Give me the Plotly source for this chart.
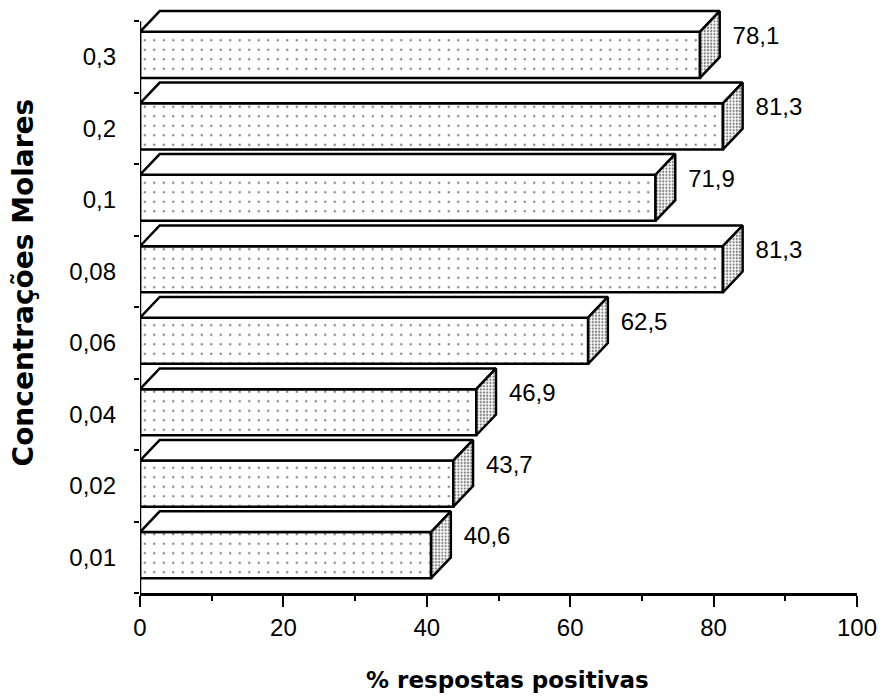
import plotly.graph_objects as go

# Molar concentrations (bottom to top) and % positive responses
concentracoes = ["0,01", "0,02", "0,04", "0,06", "0,08", "0,1", "0,2", "0,3"]
respostas = [40.6, 43.7, 46.9, 62.5, 81.3, 71.9, 81.3, 78.1]
x_ticks = [0, 20, 40, 60, 80, 100]

# geometry of the pseudo-3D boxes (axis units)
BAR_W = 0.645
BAR_SHIFT = 0.03
DEPTH_X = 2.75
DEPTH_Y = 0.29

pos = list(range(len(concentracoes)))
centers = [p + BAR_SHIFT for p in pos]
labels = [f"{v:.1f}".replace(".", ",") for v in respostas]

fig = go.Figure()

# front faces
fig.add_trace(go.Bar(
    x=respostas, y=centers, orientation="h", width=BAR_W,
    marker=dict(color="white", line=dict(color="black", width=2.5),
                pattern=dict(shape=".", fgcolor="black", bgcolor="white",
                             size=9.5, solidity=0.05)),
    hoverinfo="skip",
))

# top and side faces
tx, ty, sx, sy = [], [], [], []
for c, v in zip(centers, respostas):
    top = c + BAR_W / 2
    bot = c - BAR_W / 2
    tx += [0, v, v + DEPTH_X, DEPTH_X, 0, None]
    ty += [top, top, top + DEPTH_Y, top + DEPTH_Y, top, None]
    sx += [v, v + DEPTH_X, v + DEPTH_X, v, v, None]
    sy += [top, top + DEPTH_Y, bot + DEPTH_Y, bot, top, None]

fig.add_trace(go.Scatter(
    x=tx, y=ty, mode="lines", fill="toself", fillcolor="white",
    line=dict(color="black", width=2.5), hoverinfo="skip",
))
fig.add_trace(go.Scatter(
    x=sx, y=sy, mode="lines", fill="toself", fillcolor="white",
    fillpattern=dict(shape=".", fgcolor="black", bgcolor="white",
                     size=3.2, solidity=0.38),
    line=dict(color="black", width=2.5), hoverinfo="skip",
))

# value labels
fig.add_trace(go.Scatter(
    x=[v + DEPTH_X + 1.8 for v in respostas],
    y=[c + 0.24 for c in centers],
    mode="text", text=labels, textposition="middle right",
    textfont=dict(family="Liberation Sans, Arial", size=24, color="black"),
    cliponaxis=False, hoverinfo="skip",
))

fig.update_layout(
    width=884, height=697,
    margin=dict(l=140, r=21, t=7, b=104),
    plot_bgcolor="white", paper_bgcolor="white",
    showlegend=False,
    font=dict(family="Liberation Sans, Arial", size=24, color="black"),
    shapes=[dict(type="line", xref="x", yref="y", x0=0, x1=0,
                 y0=-0.5, y1=len(pos) - 0.5,
                 line=dict(color="black", width=2.5), layer="above")],
    annotations=[
        dict(text="% respostas positivas", xref="paper", yref="paper",
             x=0.512, y=0, yshift=-87, showarrow=False,
             xanchor="center", yanchor="middle",
             font=dict(family="DejaVu Sans", size=23, color="black", weight="bold")),
        dict(text="Concentrações Molares", xref="paper", yref="paper",
             x=0, xshift=-117, y=0.53, showarrow=False, textangle=-90,
             xanchor="center", yanchor="middle",
             font=dict(family="DejaVu Sans", size=28, color="black", weight="bold")),
    ],
)

fig.update_xaxes(
    range=[0, 100], tickvals=x_ticks,
    ticks="outside", ticklen=11, tickwidth=2, tickcolor="black",
    showline=True, linewidth=2.5, linecolor="black",
    showgrid=False, zeroline=False, ticklabelstandoff=0,
    minor=dict(dtick=10, tick0=0, ticks="outside", ticklen=5,
               tickwidth=2, tickcolor="black", showgrid=False),
)
fig.update_yaxes(
    range=[-0.5, len(pos) - 0.3], tickvals=pos, ticktext=concentracoes,
    ticks="", showline=False, showgrid=False, zeroline=False,
    ticklabelstandoff=23,
    minor=dict(tickvals=[p - 0.5 for p in range(len(pos) + 1)],
               ticks="outside", ticklen=5, tickwidth=2, tickcolor="black",
               showgrid=False),
)

fig.write_html("out.html")
